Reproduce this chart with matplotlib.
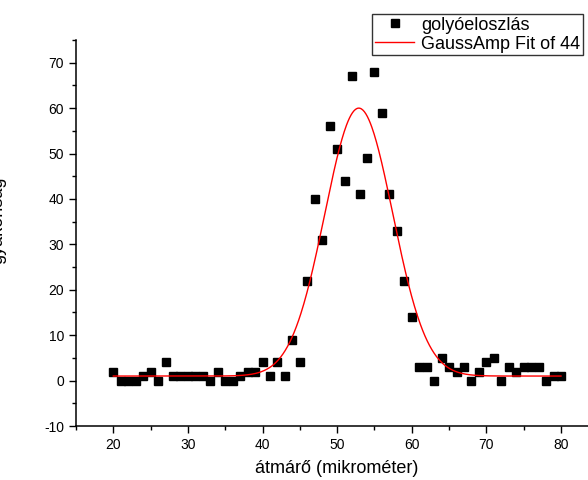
import numpy as np
import matplotlib
matplotlib.use("Agg")
import matplotlib.pyplot as plt
from matplotlib.ticker import MultipleLocator

plt.rcParams['font.family'] = ['Liberation Sans', 'DejaVu Sans']
plt.rcParams['axes.unicode_minus'] = False

# measured ball diameters (micrometre) and their counts
diameter = list(range(20, 81))
counts = [2, 0, 0, 0, 1, 2, 0, 4, 1, 1,
          1, 1, 1, 0, 2, 0, 0, 1, 2, 2,
          4, 1, 4, 1, 9, 4, 22, 40, 31, 56,
          51, 44, 67, 41, 49, 68, 59, 41, 33, 22,
          14, 3, 3, 0, 5, 3, 2, 3, 0, 2,
          4, 5, 0, 3, 2, 3, 3, 3, 0, 1,
          1]

# GaussAmp fit parameters
y0 = 1.0
xc = 52.9
w = 4.55
amp = 59.0

fig = plt.figure(figsize=(5.88, 4.8), dpi=100)
ax = fig.add_axes([76 / 588, 1 - 426 / 480, (598.3 - 76) / 588, (426 - 40) / 480])

ax.plot(diameter, counts, linestyle="none", marker="s", markersize=5.5,
        color="black", label="golyóeloszlás", zorder=2)

xfit = np.linspace(min(diameter), max(diameter), 600)
yfit = y0 + amp * np.exp(-(xfit - xc) ** 2 / (2 * w ** 2))
ax.plot(xfit, yfit, color="red", linewidth=1.0, label="GaussAmp Fit of 44", zorder=3)

ax.set_xlim(15, 85)
ax.set_ylim(-10, 75)
ax.xaxis.set_minor_locator(MultipleLocator(5))
ax.yaxis.set_major_locator(MultipleLocator(10))
ax.yaxis.set_minor_locator(MultipleLocator(5))
ax.set_xticks(range(20, 81, 10))

ax.spines['top'].set_visible(False)
ax.spines['right'].set_visible(False)
for s in ('left', 'bottom'):
    ax.spines[s].set_linewidth(1.1)
ax.tick_params(which='major', direction='out', length=5, width=1.0, labelsize=10)
ax.tick_params(which='minor', direction='out', length=3, width=1.0)

ax.set_xlabel("átmárő (mikrométer)", fontsize=13, labelpad=6)
# y label sits mostly outside the left edge, as in the original export
fig.text(-0.003, 1 - 220 / 480, "gyakoriság", rotation=90, fontsize=13,
         ha='center', va='center')

leg = fig.legend(loc='upper left', bbox_to_anchor=(372 / 588, 1 - 14 / 480),
                 borderaxespad=0, fontsize=13, frameon=True, fancybox=False,
                 edgecolor="black", borderpad=0.15, labelspacing=0.1,
                 handlelength=2.2, handletextpad=0.35)
leg.get_frame().set_linewidth(1.0)

fig.savefig("out.png", dpi=100)
